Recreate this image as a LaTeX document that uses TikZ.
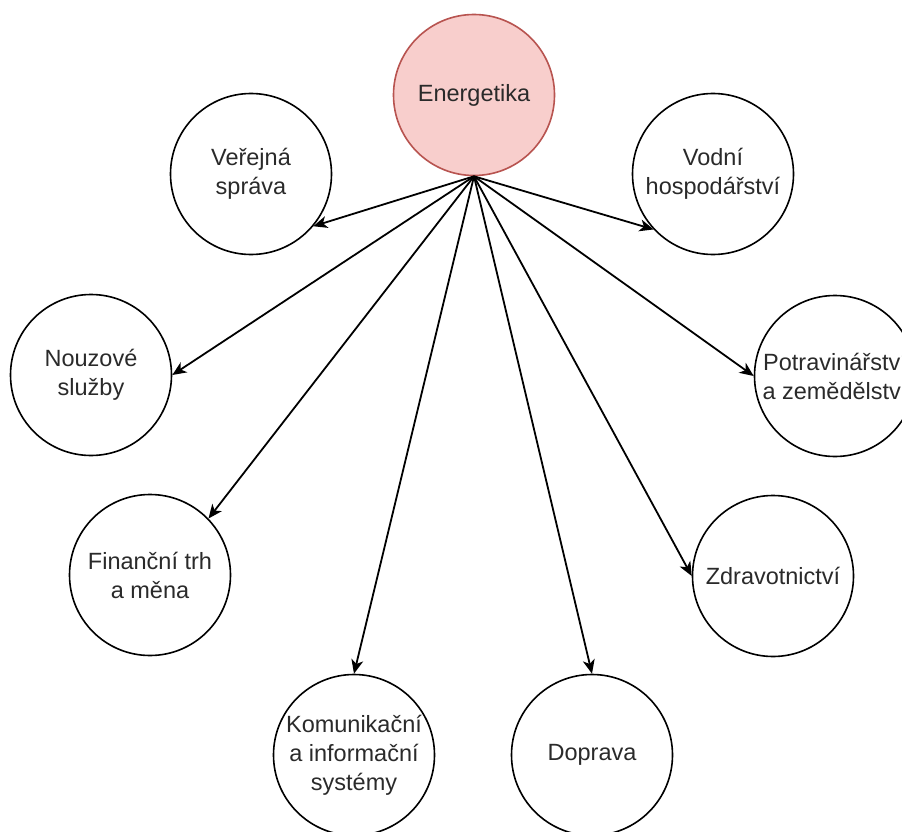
\documentclass[tikz,border=0pt]{standalone}
\usepackage{fontspec}
\setmainfont{Liberation Sans}
\usetikzlibrary{arrows.meta}
\definecolor{hubfill}{HTML}{F8CECC}
\definecolor{hubline}{HTML}{B85450}
\definecolor{txt}{HTML}{2A2A2A}
\tikzset{
  sector/.style={circle, draw=black, line width=1.6pt, fill=white,
    minimum size=161pt, inner sep=0pt, align=center, text=txt,
    font=\fontsize{23.5}{29}\selectfont},
  hub/.style={sector, fill=hubfill, draw=hubline},
  link/.style={line width=1.8pt, -{Stealth[length=14pt, width=12pt, inset=4pt]}},
}
\begin{document}
\begin{tikzpicture}[x=1pt, y=-1pt]
  \useasboundingbox (0,0) rectangle (902,832);
  \clip (0,0) rectangle (902,832);
  \fill[white] (0,0) rectangle (902,832);

  % central node
  \node[hub] (ene) at (474,95) {Energetika};

  % dependent sectors
  \node[sector] (ver) at (251,174) {Veřejná\\správa};
  \node[sector] (vod) at (713,174) {Vodní\\hospodářství};
  \node[sector] (nou) at (91,375) {Nouzové\\služby};
  \node[sector] (pot) at (835,376) {Potravinářství\\a zemědělství};
  \node[sector] (fin) at (150,575) {Finanční trh\\a měna};
  \node[sector] (zdr) at (773,576) {Zdravotnictví};
  \node[sector] (kom) at (354,755) {Komunikační\\a informační\\systémy};
  \node[sector] (dop) at (592,755) {Doprava};

  % dependencies
  \draw[link] (ene.south) -- (ver.-40);
  \draw[link] (ene.south) -- (vod.-137);
  \draw[link] (ene.south) -- (nou.east);
  \draw[link] (ene.south) -- (pot.west);
  \draw[link] (ene.south) -- (fin.44);
  \draw[link] (ene.south) -- (zdr.west);
  \draw[link] (ene.south) -- (kom.north);
  \draw[link] (ene.south) -- (dop.north);
\end{tikzpicture}
\end{document}
